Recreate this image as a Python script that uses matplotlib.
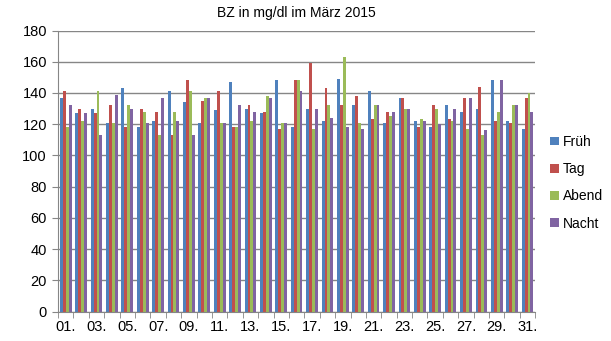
import numpy as np
import matplotlib.pyplot as plt

plt.rcParams['font.family'] = ['Liberation Sans', 'DejaVu Sans']

days = [f"{d:02d}." for d in range(1, 32)]
series = ["Früh", "Tag", "Abend", "Nacht"]
colors = ["#4F81BD", "#C0504D", "#9BBB59", "#8064A2"]

frueh = [137, 127, 130, 121, 143, 118, 122, 141, 134, 121, 129, 147, 130, 127, 148, 118,
         130, 122, 149, 132, 141, 121, 137, 122, 118, 132, 128, 130, 148, 122, 117]
tag = [141, 130, 127, 132, 118, 130, 128, 113, 148, 135, 141, 118, 132, 128, 117, 148,
       159, 143, 132, 138, 123, 128, 137, 118, 132, 123, 137, 144, 122, 121, 137]
abend = [118, 122, 141, 121, 132, 128, 113, 128, 141, 137, 121, 118, 122, 138, 121, 148,
         117, 132, 163, 121, 132, 125, 130, 123, 130, 122, 117, 113, 128, 132, 140]
nacht = [132, 127, 113, 139, 130, 121, 137, 122, 113, 137, 121, 132, 128, 137, 121, 141,
         130, 124, 118, 117, 132, 128, 130, 122, 120, 130, 137, 116, 148, 132, 128]

values = [frueh, tag, abend, nacht]

fig = plt.figure(figsize=(6.11, 3.41), dpi=100)
ax = fig.add_axes([0.095, 0.0865, 0.781, 0.824])

x = np.arange(len(days))
w = 0.19
for i in range(4):
    ax.bar(x + (i - 1.5) * w, values[i], w, color=colors[i], label=series[i], zorder=2)

ax.set_xlim(-0.5, len(days) - 0.5)
ax.set_ylim(0, 180)
ax.set_yticks(range(0, 181, 20))
ax.yaxis.grid(True, color="#868686", linewidth=1, zorder=0)

ax.set_xticks(x[::2])
ax.set_xticklabels(days[::2])
ax.set_xticks(np.arange(-0.5, len(days)), minor=True)
ax.tick_params(axis="x", which="major", length=0, labelsize=10.5, pad=6)
ax.tick_params(axis="x", which="minor", length=4, color="#868686")
ax.tick_params(axis="y", length=4, color="#868686", labelsize=10.5, pad=4)

for s in ["top", "right"]:
    ax.spines[s].set_visible(False)
for s in ["left", "bottom"]:
    ax.spines[s].set_color("#868686")

ax.set_title("BZ in mg/dl im März 2015", fontsize=10, pad=10)

fig.legend(loc="center left", bbox_to_anchor=(0.88, 0.464), frameon=False,
           handlelength=0.6, handleheight=0.6, handletextpad=0.3,
           labelspacing=0.95, fontsize=10)

fig.savefig("out.png", dpi=100)
